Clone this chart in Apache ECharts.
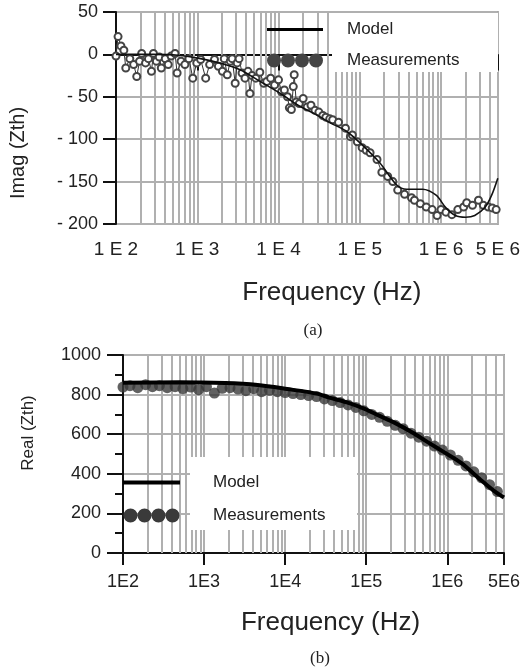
<!DOCTYPE html>
<html>
<head>
<meta charset="utf-8">
<script src="https://cdn.jsdelivr.net/npm/echarts@6/dist/echarts.min.js"></script>
<style>
  html, body { margin: 0; padding: 0; background: #fff; }
  #chart { width: 523px; height: 668px; }
</style>
</head>
<body>
<div id="chart"></div>
<script>
// ---- data ----
// (a) imaginary part
var freqModelA = [100, 289, 579, 1100, 2040, 3370, 6200, 10900, 17400, 29000, 44000, 67000, 100000, 177000, 285000, 377000, 590000, 870000, 1150000, 1500000, 2000000, 2600000, 3500000, 4200000, 5000000];
var imagModel = [0, 0, -1, -5, -11, -18, -33, -47, -60, -71, -81, -90, -104, -128, -154, -159, -159, -166, -181, -190, -192, -190, -180, -166, -146];

var freqMeasA = [100, 106, 115, 125, 132, 148, 165, 180, 195, 207, 231, 251, 273, 289, 314, 341, 361, 404, 439, 477, 533, 565, 631, 705, 789, 881, 986, 1100, 1270, 1420, 1630, 1820, 2040, 2150, 2340, 2550, 2690, 2930, 3100, 3270, 3560, 3870, 4210, 4450, 4710, 5260, 5890, 6580, 7160, 8000, 8950, 10000, 10900, 11800, 12900, 13600, 14400, 15200, 15600, 16500, 18000, 20100, 22500, 25100, 28100, 31400, 35100, 38200, 42700, 46400, 54800, 66700, 76700, 81100, 93300, 107000, 120000, 134000, 163000, 187000, 221000, 255000, 293000, 356000, 433000, 471000, 556000, 658000, 778000, 895000, 1000000, 1150000, 1360000, 1610000, 1900000, 2070000, 2440000, 2890000, 3320000, 3820000, 4270000, 4770000];
var imagMeas = [-2, 21, 10, 5, -16, -5, -12, -26, -8, 1, -10, -5, -20, 1, -8, -3, -16, -5, -12, -2, 1, -22, -8, -12, -5, -28, -10, -6, -28, -12, -6, -14, -20, -5, -24, -8, -5, -34, -10, -5, -22, -28, -20, -46, -25, -28, -21, -34, -32, -28, -36, -30, -44, -42, -50, -63, -65, -38, -24, -56, -58, -52, -62, -60, -66, -68, -72, -74, -76, -77, -80, -87, -97, -95, -103, -110, -113, -116, -124, -139, -144, -150, -160, -165, -169, -172, -176, -180, -183, -190, -183, -186, -189, -183, -180, -175, -178, -172, -178, -180, -181, -183];

// (b) real part
var freqModelB = [100, 491, 1820, 4580, 10600, 24400, 35100, 56500, 90800, 142000, 228000, 366000, 573000, 920000, 1480000, 2580000, 3720000, 5000000];
var realModel = [860, 862, 858, 848, 828, 805, 785, 762, 732, 695, 656, 610, 560, 508, 455, 369, 315, 280];

var freqMeasB = [100, 122, 152, 190, 231, 281, 351, 439, 548, 686, 857, 1070, 1340, 1670, 2090, 2620, 3270, 4090, 5120, 6400, 8000, 10000, 12500, 15600, 19500, 24400, 30500, 38200, 47800, 59700, 74600, 93300, 117000, 146000, 182000, 228000, 285000, 356000, 445000, 556000, 695000, 869000, 1090000, 1360000, 1700000, 2120000, 2650000, 3320000, 4150000];
var realMeas = [838, 845, 835, 850, 840, 845, 835, 840, 830, 838, 825, 840, 808, 832, 835, 828, 820, 830, 815, 822, 815, 810, 805, 800, 795, 790, 778, 770, 760, 748, 735, 718, 700, 685, 665, 645, 628, 605, 585, 565, 540, 520, 495, 468, 440, 410, 380, 345, 310];

// tick labels
var xTickValues = [1e2, 1e3, 1e4, 1e5, 1e6, 5e6];
var xLabelsA = ['1 E 2', '1 E 3', '1 E 4', '1 E 5', '1 E 6', '5 E 6'];
var xLabelsB = ['1E2', '1E3', '1E4', '1E5', '1E6', '5E6'];
var yTicksA = [-200, -150, -100, -50, 0, 50];
var yLabelsA = ['- 200', '- 150', '- 100', '- 50', '0', '50'];

// log grid: 2..9 inside every decade
var decades = [1e2, 1e3, 1e4, 1e5, 1e6];
var minorSteps = [2, 3, 4, 5, 6, 7, 8, 9];

function zip(xs, ys) {
  var out = [];
  for (var i = 0; i < xs.length; i++) out.push([xs[i], ys[i]]);
  return out;
}
function pickX(labels) {
  return function (v) {
    for (var i = 0; i < xTickValues.length; i++) {
      if (Math.abs(Math.log10(v) - Math.log10(xTickValues[i])) < 0.01) return labels[i];
    }
    return '';
  };
}
function pickYA(v) {
  var i = yTicksA.indexOf(Math.round(v));
  return i >= 0 ? yLabelsA[i] : '';
}
var gridLines = [];
for (var d = 0; d < decades.length; d++) {
  for (var s = 0; s < minorSteps.length; s++) {
    var v = decades[d] * minorSteps[s];
    if (v < 5e6) gridLines.push({ xAxis: v });
  }
}
function vGrid() {
  return {
    silent: true, symbol: 'none', z: 1, animation: false,
    label: { show: false },
    lineStyle: { color: '#b0b0b0', width: 2, type: 'solid' },
    emphasis: { disabled: true },
    data: gridLines
  };
}

var FONT = 'Liberation Sans';
var gray = '#b0b0b0';
var fourDots = 'path://M0,7a7,7 0 1,0 14,0a7,7 0 1,0 -14,0zM14,7a7,7 0 1,0 14,0a7,7 0 1,0 -14,0zM28,7a7,7 0 1,0 14,0a7,7 0 1,0 -14,0zM42,7a7,7 0 1,0 14,0a7,7 0 1,0 -14,0z';

var chart = echarts.init(document.getElementById('chart'));
var option = {
  animation: false,
  backgroundColor: '#fff',
  title: [
    { text: '(a)', left: 308, top: 317, textAlign: 'center', textStyle: { fontFamily: 'Liberation Serif', fontSize: 17, fontWeight: 'normal', color: '#222' } },
    { text: '(b)', left: 315, top: 645, textAlign: 'center', textStyle: { fontFamily: 'Liberation Serif', fontSize: 17, fontWeight: 'normal', color: '#222' } }
  ],
  grid: [
    { left: 112, top: 12, width: 387, height: 212, show: true, borderColor: '#444', borderWidth: 1.5, backgroundColor: 'transparent' },
    { left: 123, top: 355, width: 387, height: 198, show: true, borderColor: '#555', borderWidth: 1.5, backgroundColor: 'transparent' }
  ],
  legend: [
    {
      left: 267, top: 21, orient: 'vertical', padding: 0, itemWidth: 56, itemHeight: 14, itemGap: 14,
      selectedMode: false,
      textStyle: { fontFamily: FONT, fontSize: 17, color: '#222', padding: [4, 0, 0, 19] },
      data: [
        { name: 'Model', icon: 'path://M0,0h56v3h-56z', itemStyle: { color: '#000' }, lineStyle: { opacity: 0 } },
        { name: 'Measurements', icon: fourDots, itemStyle: { color: '#444', borderWidth: 0 }, lineStyle: { opacity: 0 } }
      ]
    },
    {
      left: 123, top: 474, orient: 'vertical', padding: 0, itemWidth: 57, itemHeight: 14, itemGap: 16,
      selectedMode: false,
      textStyle: { fontFamily: FONT, fontSize: 17, color: '#222', padding: [0, 0, 0, 28] },
      data: [
        { name: 'Model', icon: 'path://M0,0h57v4h-57z', itemStyle: { color: '#000' }, lineStyle: { opacity: 0 } },
        { name: 'Measurements', icon: fourDots, itemStyle: { color: '#3a3a3a', borderWidth: 0 }, lineStyle: { opacity: 0 } }
      ]
    }
  ],
  graphic: [
    { type: 'rect', z: 3, silent: true, shape: { x: 332, y: 13, width: 166, height: 59 }, style: { fill: '#fff' } },
    { type: 'rect', z: 3, silent: true, shape: { x: 190, y: 457, width: 167, height: 73 }, style: { fill: '#fff' } }
  ],
  xAxis: [
    {
      gridIndex: 0, type: 'log', min: 100, max: 5e6,
      name: 'Frequency (Hz)', nameLocation: 'middle', nameGap: 56,
      nameTextStyle: { fontFamily: FONT, fontSize: 26, color: '#222', padding: [0, 0, 0, 50] },
      axisLine: { lineStyle: { color: '#111', width: 2 } },
      axisTick: { length: 16, lineStyle: { color: '#111', width: 2 } },
      axisLabel: { fontFamily: FONT, fontSize: 19, color: '#222', margin: 16, formatter: pickX(xLabelsA) },
      splitLine: { show: true, lineStyle: { color: gray, width: 2 } }
    },
    {
      gridIndex: 1, type: 'log', min: 100, max: 5e6,
      name: 'Frequency (Hz)', nameLocation: 'middle', nameGap: 57,
      nameTextStyle: { fontFamily: FONT, fontSize: 26, color: '#222', padding: [0, 0, 0, 34] },
      axisLine: { lineStyle: { color: '#111', width: 2 } },
      axisTick: { length: 12, lineStyle: { color: '#111', width: 2 } },
      axisLabel: { fontFamily: FONT, fontSize: 18, color: '#222', margin: 20, formatter: pickX(xLabelsB) },
      splitLine: { show: true, lineStyle: { color: gray, width: 2 } }
    }
  ],
  yAxis: [
    {
      gridIndex: 0, type: 'value', min: -200, max: 50, interval: 50,
      name: 'Imag (Zth)', nameLocation: 'middle', nameGap: 88,
      nameTextStyle: { fontFamily: FONT, fontSize: 20, color: '#222', padding: [0, 70, 0, 0] },
      axisLine: { show: true, lineStyle: { color: '#111', width: 2 } },
      axisTick: { show: true, length: 13, lineStyle: { color: '#111', width: 2 } },
      axisLabel: { fontFamily: FONT, fontSize: 18, color: '#222', margin: 18, formatter: pickYA },
      splitLine: { show: true, lineStyle: { color: gray, width: 2 } }
    },
    {
      gridIndex: 1, type: 'value', min: 0, max: 1000, interval: 200,
      name: 'Real (Zth)', nameLocation: 'middle', nameGap: 86,
      nameTextStyle: { fontFamily: FONT, fontSize: 17, color: '#222', padding: [0, 0, 0, 42] },
      axisLine: { show: true, lineStyle: { color: '#111', width: 2 } },
      axisTick: { show: true, length: 16, lineStyle: { color: '#111', width: 2 } },
      minorTick: { show: true, splitNumber: 2, length: 8, lineStyle: { color: '#111', width: 2 } },
      axisLabel: { fontFamily: FONT, fontSize: 18, color: '#222', margin: 22, formatter: function (v) { return String(v); } },
      splitLine: { show: true, lineStyle: { color: gray, width: 2 } }
    }
  ],
  series: [
    {
      name: 'Measurements', type: 'line', xAxisIndex: 0, yAxisIndex: 0, z: 2,
      data: zip(freqMeasA, imagMeas),
      symbol: 'emptyCircle', symbolSize: 7, showAllSymbol: true,
      itemStyle: { color: '#444', borderWidth: 1.2 },
      lineStyle: { color: '#333', width: 1 },
      markLine: vGrid()
    },
    {
      name: 'Model', type: 'line', xAxisIndex: 0, yAxisIndex: 0, z: 4,
      data: zip(freqModelA, imagModel),
      symbol: 'none', smooth: 0.3,
      itemStyle: { color: '#000' },
      lineStyle: { color: '#111', width: 1.6 }
    },
    {
      name: 'Measurements', type: 'scatter', xAxisIndex: 1, yAxisIndex: 1, z: 2,
      data: zip(freqMeasB, realMeas),
      symbolSize: 11,
      itemStyle: { color: '#3a3a3a' },
      markLine: vGrid()
    },
    {
      name: 'Model', type: 'line', xAxisIndex: 1, yAxisIndex: 1, z: 4,
      data: zip(freqModelB, realModel),
      symbol: 'none', smooth: 0.3,
      itemStyle: { color: '#000' },
      lineStyle: { color: '#000', width: 4 }
    }
  ]
};
chart.setOption(option);
</script>
</body>
</html>
